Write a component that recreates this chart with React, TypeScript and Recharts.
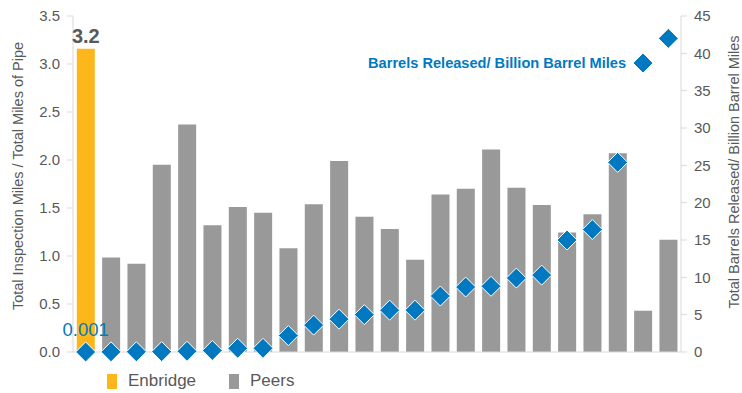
import { Bar, ComposedChart, LabelList, Line, XAxis, YAxis } from 'recharts';

const categories = [
  'Enbridge', 'Peer 1', 'Peer 2', 'Peer 3', 'Peer 4', 'Peer 5', 'Peer 6', 'Peer 7',
  'Peer 8', 'Peer 9', 'Peer 10', 'Peer 11', 'Peer 12', 'Peer 13', 'Peer 14', 'Peer 15',
  'Peer 16', 'Peer 17', 'Peer 18', 'Peer 19', 'Peer 20', 'Peer 21', 'Peer 22', 'Peer 23',
];

// Total inspection miles / total miles of pipe (left axis)
const enbridgeRatio = [3.16];
const peersRatio = [
  0.985, 0.92, 1.95, 2.37, 1.32, 1.51, 1.45, 1.08, 1.54, 1.99, 1.41, 1.28,
  0.96, 1.64, 1.70, 2.11, 1.71, 1.53, 1.245, 1.435, 2.07, 0.43, 1.17,
];

// Barrels released / billion barrel miles (right axis)
const barrelsReleased = [
  0.001, 0.02, 0.03, 0.05, 0.1, 0.2, 0.5, 0.5, 2.2, 3.6, 4.4, 5.0,
  5.6, 5.6, 7.5, 8.7, 8.8, 9.9, 10.3, 15.0, 16.4, 25.4, 38.7, 42.0,
];

const leftTicks = [0, 0.5, 1, 1.5, 2, 2.5, 3, 3.5];
const rightTicks = [0, 5, 10, 15, 20, 25, 30, 35, 40, 45];

const SERIES_NAME = 'Barrels Released/ Billion Barrel Miles';

const data = categories.map((name, i) => ({
  name,
  enbridge: i === 0 ? enbridgeRatio[0] : undefined,
  peers: i === 0 ? undefined : peersRatio[i - 1],
  barrels: barrelsReleased[i],
}));

const FONT = '"Liberation Sans", Arial, sans-serif';
const TEXT = '#595959';
const BLUE = '#0079C1';
const ORANGE = '#FDB71A';
const GRAY = '#999999';
const AXIS = '#D9D9D9';

const Diamond = (props: any) => {
  const { cx, cy, index } = props;
  if (cx == null || cy == null) return null;
  const r = 10;
  return (
    <polygon
      key={`d-${index}`}
      points={`${cx},${cy - r} ${cx + r},${cy} ${cx},${cy + r} ${cx - r},${cy}`}
      fill={BLUE}
      stroke="#fff"
      strokeWidth={1}
    />
  );
};

const BarrelsLabel = (props: any) => {
  const { x, y, value, index } = props;
  if (index === 0) {
    return (
      <text x={x} y={y - 16} textAnchor="middle" fill={BLUE} fontSize={18.5} fontFamily={FONT}>
        {value}
      </text>
    );
  }
  if (index === categories.length - 2) {
    return (
      <text x={x - 17} y={y + 5} textAnchor="end" fill={BLUE} fontSize={14.6} fontWeight="bold" fontFamily={FONT}>
        {SERIES_NAME}
      </text>
    );
  }
  return null;
};

const legendItems = [
  { label: 'Enbridge', color: ORANGE, left: 107 },
  { label: 'Peers', color: GRAY, left: 229 },
];

export default function App() {
  return (
    <div style={{ position: 'absolute', left: 0, top: 0, width: 742, height: 393, background: '#fff' }}>
      <ComposedChart
        width={742}
        height={393}
        data={data}
        barCategoryGap="15%"
        margin={{ top: 16, right: 0, bottom: 40, left: 0 }}
      >
        <XAxis dataKey="name" tick={false} height={1} axisLine={{ stroke: AXIS }} tickLine={false} />
        <YAxis
          yAxisId="left"
          width={73}
          domain={[0, 3.5]}
          ticks={leftTicks}
          tickFormatter={(v: number) => v.toFixed(1)}
          tick={{ fill: TEXT, fontSize: 15, fontFamily: FONT }}
          axisLine={{ stroke: AXIS }}
          tickLine={{ stroke: AXIS }}
          tickSize={6}
          tickMargin={7}
          label={{
            value: 'Total Inspection Miles / Total Miles of Pipe',
            angle: -90,
            position: 'insideLeft',
            offset: 18,
            dy: -8,
            style: { textAnchor: 'middle', fill: TEXT, fontSize: 14.5, fontFamily: FONT },
          }}
        />
        <YAxis
          yAxisId="right"
          orientation="right"
          width={61}
          domain={[0, 45]}
          ticks={rightTicks}
          tick={{ fill: TEXT, fontSize: 15, fontFamily: FONT }}
          axisLine={{ stroke: AXIS }}
          tickLine={{ stroke: AXIS }}
          tickSize={6}
          tickMargin={7}
          label={{
            value: 'Total Barrels Released/ Billion Barrel Miles',
            angle: -90,
            position: 'insideRight',
            offset: 8,
            dy: -12,
            style: { textAnchor: 'middle', fill: TEXT, fontSize: 14.5, fontFamily: FONT },
          }}
        />
        <Bar yAxisId="left" dataKey="enbridge" stackId="a" fill={ORANGE} isAnimationActive={false}>
          <LabelList
            dataKey="enbridge"
            position="top"
            offset={6}
            formatter={(v: any) => (typeof v === 'number' ? v.toFixed(1) : '')}
            style={{ fill: TEXT, fontSize: 20, fontWeight: 'bold', fontFamily: FONT }}
          />
        </Bar>
        <Bar yAxisId="left" dataKey="peers" stackId="a" fill={GRAY} isAnimationActive={false} />
        <Line
          yAxisId="right"
          dataKey="barrels"
          stroke="none"
          dot={Diamond}
          activeDot={false}
          isAnimationActive={false}
        >
          <LabelList dataKey="barrels" content={BarrelsLabel} />
        </Line>
      </ComposedChart>
      {legendItems.map((item) => (
        <div
          key={item.label}
          style={{
            position: 'absolute',
            left: item.left,
            top: 371,
            display: 'flex',
            alignItems: 'center',
            fontFamily: FONT,
            fontSize: 17,
            color: TEXT,
          }}
        >
          <span style={{ display: 'inline-block', width: 10, height: 15, background: item.color, marginRight: 11 }} />
          {item.label}
        </div>
      ))}
    </div>
  );
}
